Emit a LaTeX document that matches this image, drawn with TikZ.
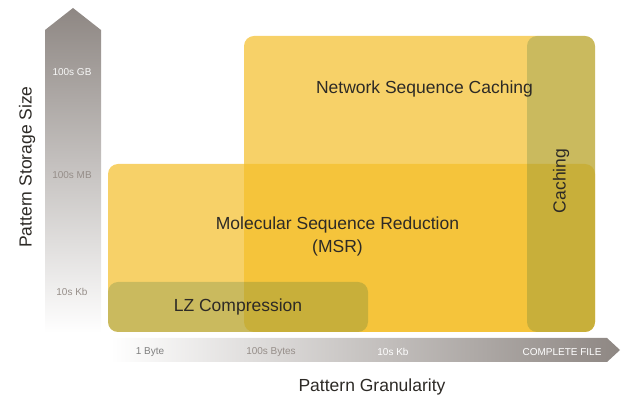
\documentclass[tikz,border=0pt]{standalone}
\usepackage{fontspec}
\setmainfont{Liberation Sans}
\usepackage{tikz}
\usetikzlibrary{positioning}

\definecolor{areayellow}{RGB}{244,190,40}
\definecolor{areaolive}{RGB}{22,94,54}
\definecolor{axisgray}{RGB}{142,135,131}
\definecolor{labeldark}{RGB}{45,42,38}
\definecolor{scalegray}{RGB}{150,142,137}

\begin{document}
\begin{tikzpicture}[
				x=1pt, y=1pt,
				font=\fontsize{17.5}{23}\selectfont,
				area/.style={
					fill=areayellow,
					fill opacity=0.7,
					rounded corners=10pt,
					inner sep=0pt,
					outer sep=0pt,
					anchor=south west
				},
				niche/.style={
					fill=areaolive,
					fill opacity=0.2,
					rounded corners=10pt,
					inner sep=0pt,
					outer sep=0pt,
					anchor=south west
				},
				arealabel/.style={
					text=labeldark,
					align=center
				},
				axistitle/.style={
					text=labeldark
				},
				scalelabel/.style={
					font=\fontsize{10}{12}\selectfont,
					text=scalegray
				}
				]

				\useasboundingbox (0,0) rectangle (622,396);

				%------------------------------------------------
				% AXES
				%------------------------------------------------

				\shade[top color=axisgray, bottom color=white]
				(45,63) -- (45,366) -- (73,388) -- (101,366) -- (101,63) -- cycle;

				\shade[left color=white, right color=axisgray]
				(110,34) -- (607,34) -- (620,46) -- (607,58) -- (110,58) -- cycle;

				\node[scalelabel, text=white!94!axisgray] (gb) at (72,324) {100s GB};
				\node[scalelabel] (mb) at (72,221) {100s MB};
				\node[scalelabel] (kb) at (72,104) {10s Kb};

				\node[scalelabel, text=gray] (byte) at (150,44) {1 Byte};
				\node[scalelabel] (bytes) at (271,44) {100s Bytes};
				\node[scalelabel, text=white] (kbx) at (393,44) {10s Kb};
				\node[scalelabel, text=white] (file) at (562,44) {COMPLETE FILE};

				\node[axistitle, rotate=90] (sizetitle) at (27,229) {Pattern Storage Size};
				\node[axistitle] (grantitle) at (372,9) {Pattern Granularity};

				%------------------------------------------------
				% AREAS
				%------------------------------------------------

				\node[area, minimum width=351pt, minimum height=296pt]
				(NSC) at (244,64) {};

				\node[area, minimum width=487pt, minimum height=168pt]
				(MSR) at (108,64) {};

				\node[niche, minimum width=260pt, minimum height=50pt]
				(LZ) at (108,64) {};

				\node[niche, minimum width=68pt, minimum height=296pt]
				(cache) at (527,64) {};

				%------------------------------------------------
				% AREA LABELS
				%------------------------------------------------

				\node[arealabel] (nsclabel) at ([xshift=5pt, yshift=-53pt]NSC.north)
				{Network Sequence Caching};

				\node[arealabel] (msrlabel) at ([xshift=-14pt, yshift=12pt]MSR.center)
				{Molecular Sequence Reduction\\(MSR)};

				\node[arealabel] (lzlabel) at (LZ.center) {LZ Compression};

				\node[arealabel, rotate=90] (cachelabel) at ([yshift=3pt]cache.center)
				{Caching};

			\end{tikzpicture}
\end{document}
